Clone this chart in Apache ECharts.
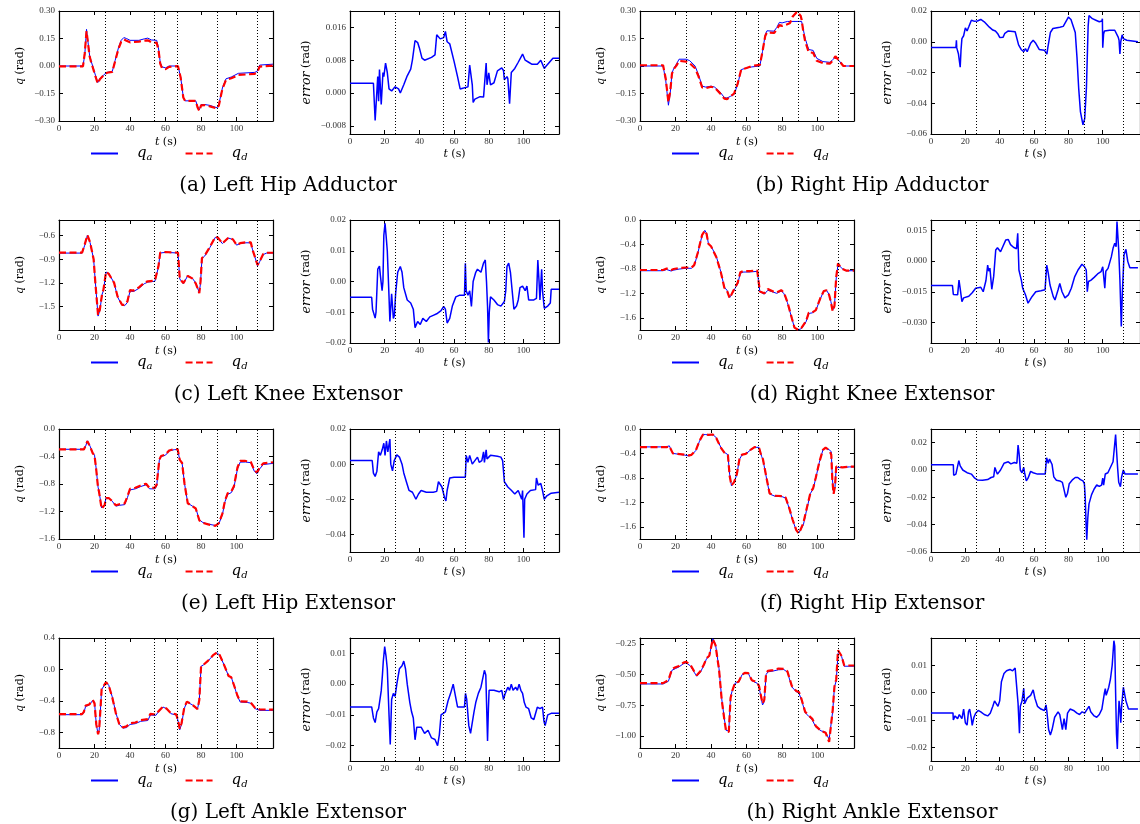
<!DOCTYPE html>
<html>
<head>
<meta charset="utf-8">
<script src="https://cdn.jsdelivr.net/npm/echarts@6/dist/echarts.min.js"></script>
<style>
  html, body { margin: 0; padding: 0; background: #fff; }
  #chart { width: 1140px; height: 824px; }
</style>
</head>
<body>
<div id="chart"></div>
<script>
// ---- shared ----
const T_MAX = 120.5;
const timeTicks = [0, 20, 40, 60, 80, 100];
const eventTimes = [26.2, 53.8, 66.6, 89.2, 111.8];
const captions = [
  '(a) Left Hip Adductor', '(b) Right Hip Adductor',
  '(c) Left Knee Extensor', '(d) Right Knee Extensor',
  '(e) Left Hip Extensor', '(f) Right Hip Extensor',
  '(g) Left Ankle Extensor', '(h) Right Ankle Extensor'
];

// ---- (a) left hip adductor ----
const qaA = [[0,0],[13.5,0],[14.5,0.06],[15.5,0.2],[16.3,0.19],[17.2,0.06],[18,0.03],[19,0.02],[20.5,-0.05],[21.8,-0.09],[23,-0.07],[25,-0.05],[27,-0.035],[30,-0.03],[31.6,0.03],[33.5,0.1],[35,0.14],[36.5,0.155],[38,0.15],[40,0.14],[45,0.14],[48,0.148],[50,0.152],[52,0.142],[55,0.14],[56,0.1],[57,0.02],[58,-0.005],[60,-0.01],[62,0],[67,0],[68.5,-0.06],[70,-0.17],[71,-0.19],[77,-0.19],[78,-0.22],[79,-0.24],[80,-0.21],[82,-0.21],[85,-0.215],[89,-0.228],[90,-0.21],[92,-0.12],[94,-0.07],[97,-0.06],[101,-0.04],[110,-0.035],[111.5,-0.03],[113,0.005],[114,0.01],[120.5,0.01]];
const qdA = [[0,-0.002],[13.5,-0.002],[14.5,0.07],[15.5,0.19],[16.3,0.185],[17.2,0.055],[18,0.025],[19,0.015],[20.5,-0.055],[21.8,-0.095],[23,-0.072],[25,-0.052],[27,-0.037],[30,-0.032],[31.6,0.026],[33.5,0.094],[35,0.132],[36.5,0.145],[38,0.138],[40,0.129],[45,0.133],[48,0.138],[50,0.14],[52,0.13],[55,0.126],[56,0.09],[57,0.013],[58,-0.012],[60,-0.017],[62,-0.005],[67,-0.001],[68.5,-0.063],[70,-0.172],[71,-0.19],[77,-0.19],[78,-0.225],[79,-0.245],[80,-0.215],[82,-0.213],[85,-0.22],[89,-0.232],[90,-0.215],[92,-0.125],[94,-0.076],[97,-0.067],[101,-0.049],[110,-0.043],[111.5,-0.037],[113,-0.003],[114,0.002],[120.5,0.002]];
const errA = [[0,0.0024],[13.5,0.0024],[14.5,-0.0067],[16,0.004],[16.5,-0.002],[17,0.0057],[18,-0.0028],[19,0.005],[19.5,0.004],[20.5,0.0073],[21.5,0.005],[22.5,0.001],[24,0.0005],[26,0.0015],[28,0.001],[29,0],[31,0.002],[33,0.0042],[35,0.0058],[36,0.0081],[37.5,0.0128],[39,0.0123],[40,0.011],[41.5,0.0085],[43,0.008],[47,0.0087],[49,0.0093],[50,0.0142],[52,0.0132],[54,0.0135],[55,0.015],[56,0.0125],[57.5,0.012],[60,0.0077],[62,0.004],[63.5,0.001],[65.5,0.0012],[66.5,0.0015],[68,0.0015],[69,0.0068],[70.5,0.002],[71,-0.0023],[72,-0.0015],[75,-0.0009],[77,-0.001],[78.5,0.0073],[79,0.002],[80,0.0049],[81,0.002],[83,0.0025],[85,0.0054],[87.5,0.0061],[88.5,0.0055],[89,0.0032],[90.5,0.004],[91,0.0035],[92,-0.0026],[93,0.005],[95,0.006],[97,0.0075],[99.5,0.0095],[101,0.008],[103,0.0075],[105,0.007],[108,0.007],[110,0.008],[112,0.006],[113,0.0065],[115,0.0075],[117,0.0085],[120.5,0.0085]];
const qLimA = [-0.3, 0.3], qTicksA = [-0.3, -0.15, 0, 0.15, 0.3];
const errLimA = [-0.01, 0.02], errTicksA = [-0.008, 0, 0.008, 0.016];

// ---- (b) right hip adductor ----
const qaB = [[0,0],[13,0],[14.5,-0.08],[16,-0.214],[17,-0.15],[18,-0.04],[19,-0.013],[20.5,0.01],[22,0.037],[26,0.037],[28,0.029],[31,0],[33,-0.049],[35,-0.11],[37,-0.115],[40,-0.11],[42,-0.115],[45,-0.141],[47.5,-0.172],[49,-0.175],[51,-0.165],[53,-0.155],[54,-0.15],[55,-0.1],[57,-0.02],[60,-0.01],[63,-0.005],[67.5,0],[69,0.08],[70.5,0.17],[71.5,0.192],[75.5,0.19],[77,0.21],[78.5,0.238],[80,0.235],[83,0.243],[91,0.243],[93,0.15],[95,0.09],[97.5,0.085],[99.5,0.042],[103,0.024],[107,0.02],[108.5,0.035],[110,0.048],[112,0.03],[114.5,0],[120.5,0]];
const qdB = [[0,0.004],[13,0.004],[14.5,-0.07],[16,-0.197],[17,-0.14],[18,-0.042],[19,-0.017],[20.5,0.002],[22,0.028],[26,0.024],[28,0.015],[31,-0.012],[33,-0.058],[35,-0.117],[37,-0.121],[40,-0.113],[42,-0.118],[45,-0.148],[47.5,-0.178],[49,-0.181],[51,-0.165],[53,-0.15],[54,-0.144],[55,-0.096],[57,-0.019],[60,-0.011],[63,0],[67.5,0.006],[69,0.08],[70.5,0.163],[71.5,0.183],[75.5,0.18],[77,0.198],[78.5,0.224],[80,0.219],[83,0.228],[84.5,0.235],[86,0.27],[88.5,0.297],[89.5,0.293],[90.5,0.273],[91,0.253],[92,0.185],[93,0.135],[95,0.075],[97.5,0.072],[99.5,0.029],[103,0.016],[107,0.013],[108.5,0.03],[110,0.053],[112,0.03],[114.5,0],[120.5,0]];
const errB = [[0,-0.0037],[14.5,-0.0037],[14.8,0.001],[15,-0.004],[16,-0.008],[17,-0.0166],[17.5,-0.005],[18,0.002],[19,0.0039],[20,0.009],[21,0.007],[22,0.0097],[23.5,0.014],[25,0.0134],[27,0.0135],[29,0.0145],[31,0.013],[34,0.0095],[36,0.0076],[37.5,0.007],[39,0.005],[40,0.0028],[42,0.003],[43,0.0055],[45,0.007],[49,0.0065],[50,0.006],[51,-0.002],[52.5,-0.005],[54,-0.0065],[55,-0.0045],[56,-0.0065],[58,-0.001],[59.5,0.0009],[61,-0.001],[63,-0.005],[66,-0.0055],[67,-0.0055],[67.5,-0.008],[68,-0.004],[69.5,0.006],[71,0.0086],[75,0.0095],[77,0.01],[78,0.009],[80,0.016],[81.5,0.0145],[82.5,0.015],[84,0.006],[85,-0.01],[86,-0.0303],[87,-0.0454],[88.5,-0.054],[89.5,-0.05],[90.5,-0.03],[91,-0.01],[91.5,0.01],[92,0.017],[94,0.015],[96,0.014],[98,0.013],[99.5,0.0135],[99.8,0.015],[100,-0.0039],[100.5,0.005],[101,0.007],[104,0.0075],[107,0.0075],[108,0.007],[109,0.003],[109.5,0.001],[110,-0.008],[110.5,0],[111.3,0.0045],[112,0.002],[113,0.003],[114,0.001],[115,0],[120.5,0]];
const qLimB = [-0.3, 0.3], qTicksB = [-0.3, -0.15, 0, 0.15, 0.3];
const errLimB = [-0.06, 0.02], errTicksB = [-0.06, -0.04, -0.02, 0, 0.02];

// ---- (c) left knee extensor ----
const qaC = [[0,-0.821],[13,-0.821],[14.5,-0.72],[16,-0.596],[17.5,-0.689],[18.5,-0.7],[19.5,-0.9],[20.5,-1.2],[22,-1.623],[23,-1.55],[24.3,-1.343],[25,-1.3],[26.5,-1.063],[28,-1.08],[31,-1.199],[33,-1.38],[35.5,-1.487],[37,-1.49],[38.5,-1.45],[40,-1.305],[42,-1.31],[45,-1.27],[48,-1.211],[50,-1.19],[54,-1.18],[55,-1.16],[56,-1.0],[57,-0.82],[60,-0.812],[67,-0.82],[68,-1.15],[70,-1.211],[71,-1.22],[72.5,-1.109],[75,-1.14],[77,-1.2],[79,-1.326],[79.7,-1.2],[80.5,-0.889],[82,-0.86],[85,-0.749],[88,-0.621],[89.5,-0.63],[92,-0.7],[95.5,-0.63],[98,-0.65],[100,-0.72],[102,-0.7],[105,-0.69],[108,-0.69],[109,-0.78],[110,-0.85],[111.8,-0.982],[113,-0.93],[115,-0.84],[117,-0.82],[120.5,-0.82]];
const qdC = [[0,-0.816],[13,-0.816],[14.5,-0.71],[16,-0.59],[17.5,-0.683],[18.5,-0.697],[19.5,-0.9],[20.5,-1.21],[22,-1.61],[23,-1.54],[24.3,-1.335],[25,-1.29],[26.5,-1.06],[28,-1.085],[31,-1.197],[33,-1.374],[35.5,-1.48],[37,-1.48],[38.5,-1.437],[40,-1.292],[42,-1.298],[45,-1.257],[48,-1.2],[50,-1.18],[54,-1.172],[55,-1.151],[56,-0.99],[57,-0.815],[60,-0.807],[67,-0.816],[68,-1.146],[70,-1.203],[71,-1.22],[72.5,-1.112],[75,-1.143],[77,-1.206],[79,-1.33],[79.7,-1.18],[80.5,-0.884],[82,-0.854],[85,-0.742],[88,-0.614],[89.5,-0.624],[92,-0.698],[95.5,-0.622],[98,-0.648],[100,-0.718],[102,-0.695],[105,-0.684],[108,-0.684],[109,-0.78],[110,-0.848],[111.8,-0.973],[113,-0.925],[115,-0.833],[117,-0.817],[120.5,-0.817]];
const errC = [[0,-0.0051],[12.5,-0.0051],[13,-0.009],[14.5,-0.0119],[15,-0.01],[16,0.004],[17,0.005],[17.5,0.002],[18.5,-0.003],[19,0],[19.5,0.015],[20.2,0.0189],[20.8,0.015],[21.5,0.01],[22.5,-0.005],[23,-0.013],[24,-0.004],[25,-0.012],[25.6,-0.011],[26.3,-0.004],[27.5,0.003],[29,0.0049],[30,0.003],[31,-0.002],[33,-0.006],[35,-0.007],[36.5,-0.009],[37.5,-0.015],[39,-0.013],[40.5,-0.014],[42,-0.012],[44,-0.013],[46,-0.0115],[48,-0.011],[50,-0.0105],[52.5,-0.0095],[54,-0.0081],[55,-0.009],[56,-0.0135],[57.5,-0.012],[59,-0.008],[61,-0.005],[63,-0.0045],[66,-0.0045],[66.5,0.0059],[67,-0.003],[68,-0.0045],[69,-0.003],[70,-0.0081],[71,0],[72.5,0.003],[73.5,0.004],[75.5,0.003],[77,0.006],[78,0.007],[78.7,0],[79.3,-0.008],[79.8,-0.0198],[80.3,-0.01],[81,-0.005],[83,-0.006],[85,-0.0075],[87,-0.008],[89,-0.0065],[89.8,-0.003],[90.5,0.0049],[91.5,0.006],[92.5,0.003],[93.5,-0.003],[94.5,-0.009],[96,-0.008],[97,-0.006],[98,-0.002],[99.5,-0.0015],[101,-0.003],[102,-0.0015],[103,-0.006],[104,-0.0065],[106,-0.006],[107.5,-0.0055],[108.3,0.007],[109,0],[109.5,-0.006],[110.5,0.004],[111,-0.003],[112,-0.0087],[114,-0.008],[115.5,-0.007],[116,-0.0025],[120.5,-0.0025]];
const qLimC = [-1.8, -0.4], qTicksC = [-1.5, -1.2, -0.9, -0.6];
const errLimC = [-0.02, 0.02], errTicksC = [-0.02, -0.01, 0, 0.01, 0.02];

// ---- (d) right knee extensor ----
const qaD = [[0,-0.83],[13,-0.83],[15,-0.81],[16,-0.781],[17.5,-0.835],[19,-0.82],[22,-0.803],[26,-0.79],[29,-0.79],[30.5,-0.754],[32.5,-0.55],[35,-0.246],[36.5,-0.169],[37.5,-0.22],[38.5,-0.382],[40,-0.426],[41,-0.45],[43,-0.6],[45.5,-0.846],[47.5,-1.103],[49,-1.15],[50.5,-1.267],[52,-1.2],[53.5,-1.12],[55,-1.043],[56.5,-0.874],[58,-0.852],[62,-0.85],[66,-0.84],[66.8,-0.86],[67.5,-1.174],[70,-1.213],[72,-1.15],[73,-1.136],[75,-1.18],[77,-1.2],[79.5,-1.163],[81,-1.2],[83,-1.35],[85.5,-1.611],[87,-1.764],[89,-1.8],[91,-1.775],[93.5,-1.665],[95,-1.529],[97,-1.52],[99,-1.48],[101.5,-1.294],[103.5,-1.158],[105,-1.15],[106.5,-1.22],[107.5,-1.338],[108.5,-1.474],[109.5,-1.4],[110.5,-0.95],[111.5,-0.726],[112.5,-0.75],[114,-0.8],[116,-0.83],[120.5,-0.83]];
const qdD = [[0,-0.818],[13,-0.818],[15,-0.795],[16,-0.77],[17.5,-0.817],[19,-0.802],[22,-0.786],[26,-0.777],[29,-0.777],[30.5,-0.739],[32.5,-0.54],[35,-0.242],[36.5,-0.175],[37.5,-0.23],[38.5,-0.389],[40,-0.43],[41,-0.456],[43,-0.61],[45.5,-0.853],[47.5,-1.109],[49,-1.156],[50.5,-1.28],[52,-1.19],[53.5,-1.107],[55,-1.027],[56.5,-0.855],[58,-0.835],[62,-0.835],[66,-0.826],[66.8,-0.85],[67.5,-1.17],[70,-1.2],[72,-1.131],[73,-1.12],[75,-1.169],[77,-1.186],[79.5,-1.148],[81,-1.186],[83,-1.342],[85.5,-1.607],[87,-1.762],[89,-1.797],[91,-1.76],[93.5,-1.656],[95,-1.521],[97,-1.514],[99,-1.475],[101.5,-1.281],[103.5,-1.162],[105,-1.152],[106.5,-1.228],[107.5,-1.345],[108.5,-1.493],[109.5,-1.405],[110.5,-0.93],[111.5,-0.71],[112.5,-0.755],[114,-0.8],[116,-0.827],[120.5,-0.827]];
const errD = [[0,-0.012],[12.5,-0.012],[13,-0.0163],[15.5,-0.0165],[16.3,-0.0093],[17,-0.0135],[18,-0.0198],[19,-0.018],[22,-0.0172],[24,-0.0155],[26,-0.0133],[29,-0.0128],[30.4,-0.015],[32,-0.0095],[33,-0.002],[33.6,-0.005],[34.3,-0.0035],[35.4,-0.0138],[36.5,-0.0075],[37.7,0.0054],[38.7,0.0065],[40.5,0.0045],[41.5,0.0037],[43.5,0.0102],[45,0.0105],[46.3,0.008],[48,0.0067],[49.8,0.006],[50.5,0.0135],[51.2,-0.0044],[52.6,-0.0093],[53.4,-0.0133],[55,-0.0165],[56.5,-0.0206],[58.8,-0.0174],[61,-0.015],[64,-0.0145],[66.4,-0.014],[67.4,-0.002],[68.3,-0.006],[69.3,-0.0117],[71.2,-0.0174],[72.2,-0.019],[74,-0.014],[75,-0.011],[76.3,-0.015],[78,-0.018],[80,-0.0165],[81.7,-0.0133],[83.7,-0.0076],[85.6,-0.0044],[87.9,-0.0016],[89.4,-0.0028],[90.4,-0.0044],[91,-0.015],[91.7,-0.01],[93.2,-0.0093],[95,-0.008],[97,-0.0063],[99,-0.0052],[100,-0.0028],[100.5,-0.007],[101.2,-0.0133],[101.8,-0.005],[103.1,-0.0036],[105,0.002],[106,0.0062],[107,0.0086],[107.8,0.007],[108.3,0.0192],[109.3,0.0054],[110,-0.0093],[110.8,-0.032],[111.4,-0.0158],[112.4,0.003],[113.5,0.0057],[114.6,-0.0003],[115.8,-0.0033],[120.5,-0.0033]];
const qLimD = [-1.8, 0], qTicksD = [-1.6, -1.2, -0.8, -0.4, 0];
const errLimD = [-0.04, 0.02], errTicksD = [-0.03, -0.015, 0, 0.015];

// ---- (e) left hip extensor ----
const qaE = [[0,-0.295],[14,-0.295],[15,-0.25],[16,-0.172],[17.5,-0.25],[19,-0.345],[20,-0.38],[21,-0.59],[22,-0.847],[22.5,-0.9],[24,-1.147],[25,-1.15],[25.7,-1.1],[26.5,-0.999],[28,-1.0],[30,-1.05],[32,-1.122],[34,-1.11],[37,-1.1],[38.5,-1.0],[40,-0.886],[43,-0.87],[46,-0.837],[49,-0.812],[51,-0.87],[54,-0.871],[55,-0.83],[56.5,-0.453],[57.5,-0.4],[60,-0.38],[62,-0.32],[65,-0.3],[66.8,-0.3],[68,-0.45],[69.3,-0.492],[70.7,-0.798],[72.5,-1.078],[75,-1.12],[77,-1.152],[79,-1.32],[81,-1.36],[84,-1.383],[88,-1.403],[90,-1.38],[92,-1.246],[93.5,-1.054],[95,-0.95],[97,-0.926],[98.5,-0.85],[100.5,-0.581],[102,-0.482],[105,-0.48],[108,-0.49],[110,-0.615],[111.5,-0.65],[113,-0.58],[115,-0.517],[120.5,-0.5]];
const qdE = [[0,-0.297],[14,-0.297],[15,-0.245],[16,-0.176],[17.5,-0.257],[19,-0.353],[20,-0.385],[21,-0.6],[22,-0.86],[22.5,-0.907],[24,-1.16],[25,-1.15],[25.7,-1.103],[26.5,-1.004],[28,-1.004],[30,-1.05],[32,-1.11],[34,-1.095],[37,-1.083],[38.5,-0.982],[40,-0.87],[43,-0.854],[46,-0.821],[49,-0.796],[51,-0.86],[54,-0.852],[55,-0.81],[56.5,-0.445],[57.5,-0.392],[60,-0.372],[62,-0.312],[65,-0.292],[66.8,-0.292],[68,-0.45],[69.3,-0.494],[70.7,-0.8],[72.5,-1.08],[75,-1.121],[77,-1.156],[79,-1.328],[81,-1.365],[84,-1.388],[88,-1.408],[90,-1.368],[92,-1.231],[93.5,-1.038],[95,-0.933],[97,-0.911],[98.5,-0.833],[100.5,-0.56],[102,-0.465],[105,-0.465],[108,-0.478],[110,-0.6],[111.5,-0.632],[113,-0.562],[115,-0.5],[120.5,-0.484]];
const errE = [[0,0.0021],[12.8,0.0021],[13.5,-0.0051],[14.5,-0.007],[15.5,-0.004],[16.5,0.007],[17.5,0.005],[18.5,0.008],[19.5,0.0119],[20.2,0.005],[21,0.0132],[21.8,0.007],[23,0.0143],[23.5,0],[24.5,-0.0038],[25.5,0.002],[27,0.0053],[28.5,0.004],[30,0],[31,-0.005],[32.5,-0.01],[34,-0.0149],[36,-0.016],[38,-0.02],[39.5,-0.017],[41,-0.015],[44,-0.016],[48,-0.016],[50,-0.0155],[51,-0.01],[53,-0.013],[54.5,-0.019],[55.3,-0.0209],[56,-0.015],[57.5,-0.0079],[60,-0.0075],[66.5,-0.0075],[67,0.0049],[68,0.001],[69,0.005],[70.5,0],[72,0.002],[73.5,0.004],[74.5,0.001],[76,0.002],[77,0.007],[77.5,0.001],[78.5,0.0081],[79,0.003],[81,0.005],[85,0.0045],[87,0.004],[88,0.002],[89,-0.01],[91,-0.013],[93,-0.0149],[95,-0.017],[97,-0.015],[99,-0.02],[99.5,-0.015],[100.3,-0.0419],[100.7,-0.02],[102,-0.017],[104,-0.015],[107,-0.0145],[107.5,-0.0079],[108.5,-0.012],[110,-0.011],[111,-0.015],[112,-0.02],[113.5,-0.018],[116,-0.0165],[120.5,-0.016]];
const qLimE = [-1.6, 0], qTicksE = [-1.6, -1.2, -0.8, -0.4, 0];
const errLimE = [-0.05, 0.02], errTicksE = [-0.04, -0.02, 0, 0.02];

// ---- (f) right hip extensor ----
const qaF = [[0,-0.293],[15,-0.293],[16,-0.28],[16.5,-0.275],[18.5,-0.399],[21,-0.41],[25,-0.426],[27.5,-0.44],[29,-0.43],[31.5,-0.35],[33.5,-0.199],[35.5,-0.094],[37,-0.09],[38.5,-0.1],[41,-0.09],[43,-0.144],[45.5,-0.299],[47.5,-0.38],[49.5,-0.421],[50.5,-0.75],[51.5,-0.93],[53,-0.87],[54.5,-0.747],[56,-0.498],[57.5,-0.42],[59.5,-0.41],[62,-0.349],[64.5,-0.3],[67,-0.3],[68.5,-0.45],[69.2,-0.498],[71.5,-0.847],[73,-1.063],[76,-1.1],[80,-1.107],[82,-1.13],[84,-1.295],[86,-1.495],[88,-1.661],[89.5,-1.7],[90.5,-1.68],[92,-1.567],[94,-1.301],[96,-1.052],[97.5,-0.98],[99,-0.803],[101,-0.543],[103,-0.343],[104.5,-0.304],[106.5,-0.34],[107.7,-0.37],[108.3,-0.8],[109,-1.052],[109.8,-0.95],[110.5,-0.626],[114,-0.63],[118,-0.62],[120.5,-0.62]];
const qdF = [[0,-0.297],[15,-0.297],[16,-0.283],[16.5,-0.282],[18.5,-0.399],[21,-0.408],[25,-0.42],[27.5,-0.432],[29,-0.423],[31.5,-0.345],[33.5,-0.195],[35.5,-0.09],[37,-0.088],[38.5,-0.097],[41,-0.09],[43,-0.15],[45.5,-0.305],[47.5,-0.386],[49.5,-0.426],[50.5,-0.77],[51.5,-0.925],[53,-0.87],[54.5,-0.74],[56,-0.492],[57.5,-0.419],[59.5,-0.408],[62,-0.346],[64.5,-0.297],[67,-0.303],[68.5,-0.455],[69.2,-0.49],[71.5,-0.84],[73,-1.055],[76,-1.092],[80,-1.097],[82,-1.123],[84,-1.29],[86,-1.489],[88,-1.655],[89.5,-1.71],[90.5,-1.64],[92,-1.54],[94,-1.283],[96,-1.041],[97.5,-0.968],[99,-0.792],[101,-0.54],[103,-0.341],[104.5,-0.305],[106.5,-0.345],[107.7,-0.42],[108.3,-0.83],[109,-1.06],[109.8,-0.94],[110.5,-0.615],[114,-0.627],[118,-0.617],[120.5,-0.617]];
const errF = [[0,0.0039],[13,0.0039],[13.2,-0.0039],[14.5,-0.003],[15.5,-0.0025],[16.2,0.0068],[17,0.003],[18.5,0],[21,-0.002],[23.5,-0.003],[25.5,-0.006],[27,-0.0073],[30,-0.0075],[33,-0.007],[35,-0.0055],[36.5,-0.005],[37.2,0.0019],[38,-0.001],[38.7,-0.003],[40.5,0],[42.5,0.0049],[45,0.006],[46.5,0.0045],[48.5,0.0055],[50,0.005],[50.7,0.0182],[51.3,0.012],[52,0],[53,-0.002],[54,0.002],[54.5,-0.002],[55.5,-0.008],[56.5,-0.006],[58,-0.001],[59.5,-0.002],[62,-0.003],[66.5,-0.003],[67.3,0.009],[68.3,0.005],[69,0.008],[70.5,0.004],[71.5,-0.005],[73,-0.0075],[75,-0.008],[76.5,-0.009],[77.5,-0.0095],[78.5,-0.02],[79.5,-0.017],[80.5,-0.01],[82.5,-0.007],[84,-0.0055],[85.5,-0.0055],[87,-0.007],[88.5,-0.008],[89.3,-0.01],[89.8,-0.02],[90.3,-0.04],[90.7,-0.0511],[91.3,-0.035],[92,-0.0248],[93.5,-0.018],[95,-0.0139],[96.5,-0.011],[98,-0.012],[99.3,-0.011],[100,-0.006],[100.5,-0.011],[101.5,-0.0029],[103,-0.002],[106,0.006],[107,0.005],[107.5,0.026],[108,0.015],[108.7,0.001],[109.3,-0.009],[110.3,-0.0122],[111,-0.005],[112,0],[113,-0.003],[120.5,-0.003]];
const qLimF = [-1.8, 0], qTicksF = [-1.6, -1.2, -0.8, -0.4, 0];
const errLimF = [-0.06, 0.03], errTicksF = [-0.06, -0.04, -0.02, 0, 0.02];

// ---- (g) left ankle extensor ----
const qaG = [[0,-0.576],[13,-0.576],[14,-0.55],[15,-0.47],[17,-0.455],[19,-0.393],[20,-0.42],[21,-0.7],[22,-0.82],[22.6,-0.78],[23.5,-0.45],[24,-0.256],[25,-0.24],[26.5,-0.166],[28,-0.2],[30,-0.35],[32,-0.551],[34,-0.7],[36,-0.747],[38,-0.74],[40,-0.7],[43,-0.69],[46,-0.66],[50,-0.65],[51.5,-0.58],[54.5,-0.585],[56,-0.54],[58.5,-0.478],[60.5,-0.5],[63,-0.563],[66,-0.58],[67,-0.65],[68,-0.768],[69,-0.7],[70.5,-0.5],[72,-0.413],[75,-0.45],[78,-0.5],[79,-0.4],[80,0.04],[81.5,0.06],[84,0.11],[87,0.184],[89,0.213],[90.5,0.18],[93,0.055],[95.5,-0.085],[97,-0.1],[98.5,-0.2],[100.5,-0.341],[102,-0.414],[106,-0.42],[108,-0.43],[110.5,-0.5],[113,-0.521],[120.5,-0.521]];
const qdG = [[0,-0.569],[13,-0.569],[14,-0.54],[15,-0.46],[17,-0.447],[19,-0.39],[20,-0.432],[21,-0.7],[22,-0.825],[22.6,-0.77],[23.5,-0.45],[24,-0.252],[25,-0.237],[26.5,-0.162],[28,-0.205],[30,-0.356],[32,-0.556],[34,-0.7],[36,-0.737],[38,-0.725],[40,-0.686],[43,-0.675],[46,-0.645],[50,-0.632],[51.5,-0.565],[54.5,-0.575],[56,-0.534],[58.5,-0.475],[60.5,-0.497],[63,-0.556],[66,-0.572],[67,-0.645],[68,-0.755],[69,-0.685],[70.5,-0.49],[72,-0.41],[75,-0.448],[78,-0.505],[79,-0.39],[80,0.042],[81.5,0.062],[84,0.112],[87,0.186],[89,0.216],[90.5,0.182],[93,0.055],[95.5,-0.084],[97,-0.1],[98.5,-0.198],[100.5,-0.335],[102,-0.406],[106,-0.409],[108,-0.423],[110.5,-0.492],[113,-0.508],[120.5,-0.512]];
const errG = [[0,-0.0074],[12.5,-0.0074],[13.5,-0.011],[14.5,-0.0125],[15.5,-0.009],[16.5,-0.008],[17.3,-0.0075],[18,-0.0022],[18.7,0.003],[19.2,0.0075],[20,0.0122],[20.8,0.009],[21.5,0.005],[22.5,-0.01],[23.2,-0.0196],[24,-0.005],[25,-0.003],[26,-0.004],[27,0],[28.5,0.005],[30,0.006],[31,0.0075],[32,0.005],[33,0],[34.5,-0.006],[35.5,-0.009],[36.5,-0.011],[37.5,-0.0181],[38.5,-0.014],[41,-0.014],[43,-0.016],[45,-0.015],[47,-0.0175],[49,-0.018],[50.5,-0.02],[51.5,-0.0165],[52.5,-0.01],[53.5,-0.0105],[55,-0.009],[56.5,-0.0055],[58,-0.003],[59.5,0],[60.5,-0.003],[62,-0.0074],[66,-0.0074],[66.6,-0.003],[67.3,-0.005],[68.5,-0.0135],[69.5,-0.016],[70.5,-0.0125],[71.5,-0.009],[72.5,-0.006],[74,-0.003],[75.5,-0.001],[76.5,-0.0005],[77.5,0.0045],[78.3,0.003],[79.3,-0.0185],[79.8,-0.008],[80.2,-0.002],[83,-0.002],[86,-0.0025],[87.5,-0.002],[88.5,-0.005],[89.5,-0.003],[91,-0.001],[92,-0.002],[93,0],[94,-0.002],[95.5,-0.001],[96.5,-0.002],[97.5,0],[98.5,-0.002],[99.5,-0.003],[100.5,-0.006],[101.5,-0.0075],[103,-0.008],[104.5,-0.011],[106,-0.0115],[108,-0.0075],[109.5,-0.008],[111,-0.0075],[111.8,-0.012],[112.5,-0.0135],[114,-0.01],[116,-0.0095],[120.5,-0.0095]];
const qLimG = [-1.0, 0.4], qTicksG = [-0.8, -0.4, 0, 0.4];
const errLimG = [-0.025, 0.015], errTicksG = [-0.02, -0.01, 0, 0.01];

// ---- (h) right ankle extensor ----
const qaH = [[0,-0.576],[13,-0.576],[14,-0.57],[16,-0.554],[18,-0.464],[20,-0.45],[22,-0.436],[24.5,-0.41],[26,-0.403],[28.5,-0.43],[30.5,-0.48],[32,-0.513],[34,-0.48],[36,-0.422],[37.5,-0.368],[39,-0.35],[41,-0.206],[42.5,-0.25],[44.5,-0.45],[46,-0.696],[47.5,-0.861],[48.5,-0.956],[50,-0.96],[51,-0.68],[52,-0.628],[53.5,-0.57],[55.5,-0.56],[57.5,-0.5],[59,-0.485],[61,-0.49],[63,-0.55],[66,-0.57],[67,-0.6],[69,-0.748],[70,-0.72],[71,-0.5],[72,-0.477],[75,-0.47],[78,-0.46],[81,-0.458],[83,-0.48],[85.5,-0.6],[88,-0.64],[89.5,-0.65],[91,-0.71],[93,-0.81],[95,-0.841],[97,-0.87],[99,-0.929],[102,-0.96],[104.5,-0.97],[106.5,-1.03],[107.3,-1.02],[108.5,-0.8],[109.5,-0.6],[110.5,-0.55],[111.5,-0.327],[112,-0.31],[113.5,-0.35],[115,-0.431],[120.5,-0.431]];
const qdH = [[0,-0.569],[13,-0.569],[14,-0.562],[16,-0.545],[18,-0.455],[20,-0.439],[22,-0.429],[24.5,-0.401],[26,-0.395],[28.5,-0.423],[30.5,-0.472],[32,-0.505],[34,-0.472],[36,-0.417],[37.5,-0.365],[39,-0.345],[41,-0.21],[42.5,-0.258],[44.5,-0.458],[46,-0.704],[47.5,-0.869],[48.5,-0.965],[50,-0.968],[51,-0.69],[52,-0.63],[53.5,-0.567],[55.5,-0.558],[57.5,-0.499],[59,-0.486],[61,-0.488],[63,-0.545],[66,-0.563],[67,-0.593],[69,-0.735],[70,-0.705],[71,-0.49],[72,-0.469],[75,-0.463],[78,-0.45],[81,-0.452],[83,-0.473],[85.5,-0.593],[88,-0.633],[89.5,-0.642],[91,-0.703],[93,-0.804],[95,-0.833],[97,-0.861],[99,-0.921],[102,-0.96],[104.5,-0.975],[106.5,-1.05],[107.3,-1.037],[108.5,-0.79],[109.5,-0.597],[110.5,-0.539],[111.5,-0.3],[112,-0.29],[113.5,-0.347],[115,-0.425],[120.5,-0.425]];
const errH = [[0,-0.0074],[12.8,-0.0074],[13,-0.01],[14,-0.0085],[15.5,-0.0095],[16.5,-0.008],[18,-0.0095],[19,-0.006],[20,-0.011],[21,-0.0119],[21.8,-0.007],[22.5,-0.006],[23.5,-0.0095],[24,-0.012],[25,-0.009],[26,-0.0075],[27.5,-0.0065],[29,-0.007],[31,-0.008],[33,-0.0085],[34.5,-0.0075],[36,-0.005],[37,-0.003],[38,-0.004],[39,-0.005],[40,-0.003],[41,0.004],[42.5,0.007],[44,0.008],[46,0.0085],[47.5,0.008],[49,0.009],[50,0.0085],[50.7,-0.004],[51.5,-0.0148],[52,-0.005],[53,-0.003],[54,0.0016],[54.5,-0.004],[56,-0.002],[58,-0.001],[59.5,0.001],[60.5,-0.002],[62,-0.005],[64,-0.006],[66,-0.0065],[67,-0.0045],[67.5,-0.007],[68.5,-0.0135],[69.5,-0.0155],[70.5,-0.0135],[72,-0.009],[74,-0.007],[75,-0.008],[76.5,-0.0135],[77.5,-0.0095],[78.5,-0.0135],[79.5,-0.0075],[81,-0.006],[83,-0.0065],[85,-0.0075],[86.5,-0.008],[88,-0.007],[89.5,-0.0075],[90.5,-0.0065],[92,-0.005],[93,-0.007],[95,-0.0085],[96.5,-0.009],[98,-0.008],[99.5,-0.006],[100.3,-0.006],[101,0],[101.5,0.0015],[102,-0.001],[103.5,0.002],[104.5,0.005],[105.5,0.01],[106.5,0.019],[107,0.017],[107.5,0],[108,-0.015],[108.5,-0.0206],[109,-0.01],[109.5,-0.003],[110,-0.006],[110.5,-0.011],[111,-0.005],[112,0.002],[112.5,0.0015],[113.5,-0.003],[115,-0.006],[120.5,-0.006]];
const qLimH = [-1.1, -0.2], qTicksH = [-1.0, -0.75, -0.5, -0.25];
const errLimH = [-0.025, 0.02], errTicksH = [-0.02, -0.01, 0, 0.01];

// decimals shown on the y tick labels, per panel
const qDecimals = [2, 2, 1, 1, 1, 1, 1, 2];
const errDecimals = [3, 2, 2, 3, 2, 2, 2, 2];

// ---- layout ----
const rowTops = [11, 220, 429, 638];
const qLeft = [59, 640], errLeft = [350, 931];
const errWidth = [209, 212], errTMax = [120.5, 121.7]; // right column runs off the page edge
const Q_W = 214, Q_H = 110, E_H = 123;
const SERIF = 'DejaVu Serif';
const TICK_FONT = 'Liberation Serif';

const panels = [
  [qaA, qdA, errA, qLimA, qTicksA, errLimA, errTicksA],
  [qaB, qdB, errB, qLimB, qTicksB, errLimB, errTicksB],
  [qaC, qdC, errC, qLimC, qTicksC, errLimC, errTicksC],
  [qaD, qdD, errD, qLimD, qTicksD, errLimD, errTicksD],
  [qaE, qdE, errE, qLimE, qTicksE, errLimE, errTicksE],
  [qaF, qdF, errF, qLimF, qTicksF, errLimF, errTicksF],
  [qaG, qdG, errG, qLimG, qTicksG, errLimG, errTicksG],
  [qaH, qdH, errH, qLimH, qTicksH, errLimH, errTicksH]
];

const grid = [], xAxis = [], yAxis = [], series = [], legend = [], graphic = [];

function fmt(dec) {
  return v => v.toFixed(dec).replace('-', '\u2212');
}

function nameStyle(italicSize) {
  return {
    fontFamily: SERIF, fontSize: 11, color: '#000',
    rich: { i: { fontFamily: SERIF, fontSize: italicSize, fontStyle: 'italic', color: '#000' } }
  };
}
const frameLine = { show: true, onZero: false, lineStyle: { color: '#000', width: 1.2 } };
const tickLine = { color: '#000', width: 1 };
const labelStyle = { fontFamily: TICK_FONT, fontSize: 9, color: '#333' };

function addPlot(box, tMax, lim, ticks, dec, yName, yGap, iSize, lines) {
  const g = grid.length;
  grid.push({ left: box[0], top: box[1], width: box[2], height: box[3] });

  xAxis.push({
    type: 'value', gridIndex: g, position: 'bottom', min: 0, max: tMax,
    axisLine: frameLine, splitLine: { show: false },
    axisTick: { inside: true, length: 4, customValues: timeTicks, lineStyle: tickLine },
    axisLabel: { customValues: timeTicks, margin: 3, formatter: v => String(v), ...labelStyle },
    name: '{i|t} (s)', nameLocation: 'middle', nameGap: box[3] > 115 ? 15 : 16, nameTextStyle: nameStyle(11)
  });
  xAxis.push({
    type: 'value', gridIndex: g, position: 'top', min: 0, max: tMax,
    axisLine: frameLine, splitLine: { show: false },
    axisTick: { inside: true, length: 4, customValues: timeTicks, lineStyle: tickLine },
    axisLabel: { show: false }
  });
  yAxis.push({
    type: 'value', gridIndex: g, position: 'left', min: lim[0], max: lim[1],
    axisLine: frameLine, splitLine: { show: false },
    axisTick: { inside: true, length: 4, customValues: ticks, lineStyle: tickLine },
    axisLabel: { customValues: ticks, margin: 4, formatter: fmt(dec), ...labelStyle },
    name: yName, nameLocation: 'middle', nameRotate: 90, nameGap: yGap, nameTextStyle: nameStyle(iSize)
  });
  yAxis.push({
    type: 'value', gridIndex: g, position: 'right', min: lim[0], max: lim[1],
    axisLine: frameLine, splitLine: { show: false },
    axisTick: { inside: true, length: 4, customValues: ticks, lineStyle: tickLine },
    axisLabel: { show: false }
  });

  lines.forEach((s, k) => {
    const item = {
      type: 'line', name: s.name, data: s.data,
      xAxisIndex: g * 2, yAxisIndex: g * 2,
      symbol: 'none', showSymbol: false, animation: false,
      color: s.color, lineStyle: s.lineStyle, z: 2 + k
    };
    if (k === 0) {
      item.markLine = {
        silent: true, symbol: ['none', 'none'], label: { show: false }, animation: false,
        lineStyle: { color: '#000', width: 1, type: [1, 2] },
        data: eventTimes.map(t => ({ xAxis: t }))
      };
    }
    series.push(item);
  });
}

panels.forEach((p, i) => {
  const row = Math.floor(i / 2), col = i % 2, top = rowTops[row];
  const [qa, qd, err, qLim, qTicks, eLim, eTicks] = p;

  addPlot([qLeft[col], top, Q_W, Q_H], T_MAX, qLim, qTicks, qDecimals[i], '{i|q} (rad)', 33, 11, [
    { name: 'qa', data: qa, color: '#0000ff', lineStyle: { color: '#0000ff', width: 1 } },
    { name: 'qd', data: qd, color: '#ff0000', lineStyle: { color: '#ff0000', width: 2.2, type: [7, 3.5] } }
  ]);
  addPlot([errLeft[col], top, errWidth[col], E_H], errTMax[col], eLim, eTicks, errDecimals[i], '{i|error} (rad)', 37, 12.5, [
    { name: 'error', data: err, color: '#0000ff', lineStyle: { color: '#0000ff', width: 1.5 } }
  ]);

  legend.push({
    data: ['qa', 'qd'], selectedMode: false,
    left: qLeft[col] + 31, top: top + 135, padding: 0,
    itemWidth: 27, itemHeight: 12, itemGap: 32,
    itemStyle: { color: 'rgba(0,0,0,0)', borderWidth: 0 },
    formatter: n => n === 'qa' ? '{q|q}{s|a}' : '{q|q}{s|d}',
    textStyle: {
      fontFamily: SERIF, color: '#000',
      rich: {
        q: { fontFamily: SERIF, fontSize: 15, fontStyle: 'italic', lineHeight: 18, padding: [0, 0, 0, 14], color: '#000' },
        s: { fontFamily: SERIF, fontSize: 10, fontStyle: 'italic', lineHeight: 10, verticalAlign: 'bottom', color: '#000' }
      }
    }
  });

  graphic.push({
    type: 'text', x: col ? 872 : 288, y: top + 175, silent: true,
    style: {
      text: captions[i], fontFamily: SERIF, fontSize: 20, fill: '#000',
      align: 'center', verticalAlign: 'middle', textAlign: 'center', textVerticalAlign: 'middle'
    }
  });
});

const chart = echarts.init(document.getElementById('chart'));
chart.setOption({
  animation: false,
  backgroundColor: '#fff',
  grid, xAxis, yAxis, series, legend, graphic
});
</script>
</body>
</html>
